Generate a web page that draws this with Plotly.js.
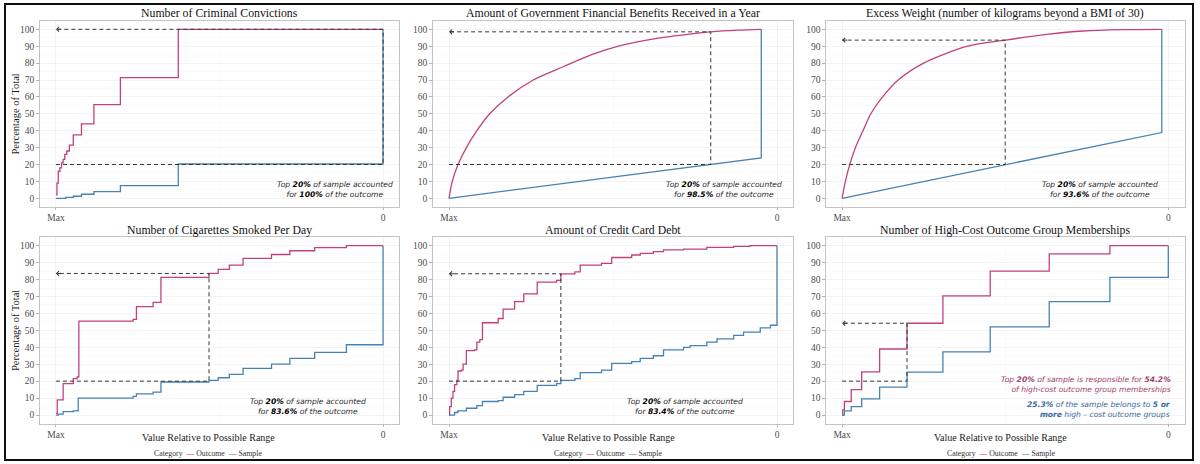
<!DOCTYPE html>
<html><head><meta charset="utf-8">
<script src="https://cdn.plot.ly/plotly-3.0.1.min.js"></script>
<style>html,body{margin:0;padding:0;background:#fff}#chart{width:1200px;height:464px}</style>
</head><body><div id="chart"></div>
<script>
// ---------- data ----------
const panelTitles = [
  'Number of Criminal Convictions',
  'Amount of Government Financial Benefits Received in a Year',
  'Excess Weight (number of kilograms beyond a BMI of 30)',
  'Number of Cigarettes Smoked Per Day',
  'Amount of Credit Card Debt',
  'Number of High-Cost Outcome Group Memberships'
];
const xTickLabels = ['Max', '0'];
const xTickVals = [0, 1];
const seriesNames = ['Outcome', 'Sample'];
const xAxisTitle = 'Value Relative to Possible Range';
const yAxisTitle = 'Percentage of Total';

// Panel 1: criminal convictions
const crimOutX = [0, 0.003, 0.007, 0.012, 0.017, 0.022, 0.027, 0.033, 0.041, 0.053, 0.078, 0.116, 0.197, 0.374, 1.0];
const crimOutY = [2, 9, 16, 18, 21, 23, 26, 28, 31.5, 37.5, 44, 55.4, 71.4, 100, 100];
const crimSamX = [0, 0.03, 0.053, 0.078, 0.116, 0.197, 0.374, 1.0, 1.0];
const crimSamY = [0, 0.6, 1.2, 2.4, 4, 7.5, 20.3, 20.3, 100];

// Panel 2: government benefits
const benOutX = [0, 0.01, 0.0275, 0.053, 0.085, 0.124, 0.18, 0.257, 0.35, 0.435, 0.525, 0.63, 0.74, 0.798, 0.88, 0.952];
const benOutY = [0, 10, 20, 30, 40, 50, 60, 70, 78, 85, 90.5, 94.5, 97.3, 98.5, 99.5, 100];
const benSamX = [0, 0.952, 0.952];
const benSamY = [0, 23.9, 100];

// Panel 3: excess weight
const wtOutX = [0, 0.01, 0.0235, 0.041, 0.064, 0.088, 0.124, 0.172, 0.25, 0.385, 0.5, 0.628, 0.74, 0.86, 0.98];
const wtOutY = [0, 10, 20, 30, 40, 50, 60, 70, 80, 90, 93.6, 97, 99, 99.8, 100];
const wtSamX = [0, 0.98, 0.98];
const wtSamY = [0, 38.9, 100];

// Panel 4: cigarettes
const cigOutX = [0, 0.004, 0.022, 0.053, 0.065, 0.07, 0.236, 0.246, 0.297, 0.321, 0.468, 0.496, 0.53, 0.572, 0.659, 0.715, 0.791, 0.888, 1.0];
const cigOutY = [1, 9, 18.5, 21.5, 22.5, 55.5, 56.5, 64, 66.5, 81.3, 83.6, 86, 88.5, 92.5, 94.8, 97, 98.8, 100, 100];
const cigSamX = [0, 0.007, 0.022, 0.053, 0.068, 0.236, 0.246, 0.297, 0.321, 0.468, 0.496, 0.53, 0.572, 0.659, 0.715, 0.791, 0.888, 1.0, 1.0];
const cigSamY = [0, 0.5, 2, 2.5, 10, 11, 12.5, 13.5, 19.5, 20.5, 22, 24, 27.5, 30, 33.5, 37, 41.5, 41.5, 100];

// Panel 5: credit card debt
const debtOutX = [0, 0.002, 0.007, 0.012, 0.017, 0.024, 0.0275, 0.038, 0.043, 0.053, 0.078, 0.085, 0.094, 0.102, 0.15, 0.165, 0.2, 0.228, 0.269, 0.328, 0.341, 0.384, 0.4, 0.465, 0.496, 0.557, 0.583, 0.623, 0.654, 0.715, 0.786, 0.868, 0.918, 1.0];
const debtOutY = [0, 5, 10, 14, 18, 20.5, 26, 26.5, 30, 38, 38.5, 43, 44.5, 54.5, 57, 62.5, 67, 71.5, 78.5, 79.5, 83.4, 84.5, 88.5, 89.5, 93, 94.5, 95.5, 96.5, 97.5, 98, 99, 99.6, 100, 100];
const debtSamX = [0, 0.017, 0.027, 0.053, 0.085, 0.102, 0.15, 0.165, 0.2, 0.228, 0.269, 0.328, 0.341, 0.384, 0.4, 0.465, 0.496, 0.557, 0.583, 0.623, 0.654, 0.715, 0.735, 0.786, 0.817, 0.868, 0.898, 0.949, 0.98, 1.0, 1.0];
const debtSamY = [0, 1.5, 2.5, 4, 5.5, 8, 8.5, 10.5, 12, 14, 17.5, 18.5, 20.5, 21.5, 25, 26.5, 30.5, 31.5, 33.5, 35, 38.5, 40, 41, 43, 45, 47, 49, 51.5, 53, 54, 100];

// Panel 6: high-cost group memberships
const grpOutX = [0, 0.002, 0.007, 0.028, 0.06, 0.115, 0.199, 0.309, 0.454, 0.635, 0.821, 1.0];
const grpOutY = [0, 3, 8, 15, 25.5, 39, 54.2, 70.3, 85, 95.1, 100, 100];
const grpSamX = [0, 0.007, 0.028, 0.06, 0.115, 0.199, 0.309, 0.454, 0.635, 0.821, 1.0, 1.0];
const grpSamY = [0, 2.5, 5, 9.5, 16.5, 25.3, 37.3, 52, 67, 81.3, 81.3, 100];

// Top-20% guide lines: sample share, x where sample reaches it, outcome share there
const sampleShare = 20;
const guideX = [1.0, 0.798, 0.5, 0.468, 0.341, 0.199];
const guideY = [100, 98.5, 93.6, 83.6, 83.4, 54.2];
const groupShare5Plus = 25.3;

// ---------- styling ----------
const PINK = '#c2417d', BLUE = '#4682b4', GUIDE = '#363636';
const SERIF = '"Liberation Serif", "Times New Roman", serif';
const SANS = '"DejaVu Sans", "Liberation Sans", sans-serif';

const panels = [
  {ox: crimOutX, oy: crimOutY, sx: crimSamX, sy: crimSamY, shape: 'hv'},
  {ox: benOutX, oy: benOutY, sx: benSamX, sy: benSamY, shape: 'spline'},
  {ox: wtOutX, oy: wtOutY, sx: wtSamX, sy: wtSamY, shape: 'spline'},
  {ox: cigOutX, oy: cigOutY, sx: cigSamX, sy: cigSamY, shape: 'hv'},
  {ox: debtOutX, oy: debtOutY, sx: debtSamX, sy: debtSamY, shape: 'hv'},
  {ox: grpOutX, oy: grpOutY, sx: grpSamX, sy: grpSamY, shape: 'hv'}
];

const W = 1200, H = 464;
const xDomains = [[39.6/W, 399.4/W], [432.6/W, 793.4/W], [825.8/W, 1184.6/W]];
const yDomains = [[1 - 206.75/H, 1 - 20.85/H], [1 - 423.5/H, 1 - 237.2/H]];

const traces = [];
const annotations = [];
const layout = {
  width: W, height: H,
  margin: {l: 0, r: 0, t: 0, b: 0},
  paper_bgcolor: '#ffffff', plot_bgcolor: '#ffffff',
  showlegend: false,
  font: {family: SERIF, color: '#4d4d4d'},
  shapes: [{
    type: 'rect', xref: 'paper', yref: 'paper',
    x0: 5/W, x1: 1193/W, y0: 1 - 460/H, y1: 1 - 4/H,
    line: {color: '#111111', width: 2}, fillcolor: 'rgba(0,0,0,0)', layer: 'above'
  }],
  annotations: annotations
};

panels.forEach((p, i) => {
  const s = i === 0 ? '' : String(i + 1);
  const row = i < 3 ? 0 : 1, col = i % 3;
  const xa = 'x' + s, ya = 'y' + s;
  const lineOut = {color: PINK, width: 1.3, shape: p.shape};
  if (p.shape === 'spline') lineOut.smoothing = 0.8;

  traces.push({x: p.ox, y: p.oy, xaxis: xa, yaxis: ya, type: 'scatter', mode: 'lines',
    name: seriesNames[0], line: lineOut, hoverinfo: 'skip'});
  traces.push({x: p.sx, y: p.sy, xaxis: xa, yaxis: ya, type: 'scatter', mode: 'lines',
    name: seriesNames[1], line: {color: BLUE, width: 1.3, shape: p.shape === 'spline' ? 'linear' : p.shape}, hoverinfo: 'skip'});
  traces.push({x: [0, guideX[i], guideX[i], 0], y: [sampleShare, sampleShare, guideY[i], guideY[i]],
    xaxis: xa, yaxis: ya, type: 'scatter', mode: 'lines', showlegend: false,
    line: {color: GUIDE, width: 1, dash: '4px,3px'}, hoverinfo: 'skip'});

  layout['xaxis' + s] = {
    domain: xDomains[col], anchor: ya, range: [-0.05, 1.05],
    tickvals: xTickVals, ticktext: xTickLabels,
    ticks: 'outside', ticklen: 2, tickcolor: '#b3b3b3', tickwidth: 1,
    tickfont: {family: SERIF, size: 9.5, color: '#4d4d4d'},
    showgrid: true, gridcolor: '#ebebeb', gridwidth: 0.6,
    minor: {tickvals: [0.5], showgrid: true, gridcolor: '#f4f4f4', gridwidth: 0.4},
    zeroline: false, showline: true, mirror: true, linecolor: '#c4c4c4', linewidth: 1,
    fixedrange: true, title: {text: ''}
  };
  layout['yaxis' + s] = {
    domain: yDomains[row], anchor: xa, range: [-5, 105],
    tickmode: 'linear', tick0: 0, dtick: 10,
    ticks: 'outside', ticklen: 2.5, tickcolor: '#b3b3b3', tickwidth: 1,
    tickfont: {family: SERIF, size: 9.5, color: '#4d4d4d'},
    showgrid: true, gridcolor: '#ebebeb', gridwidth: 0.6,
    minor: {dtick: 5, showgrid: true, gridcolor: '#f4f4f4', gridwidth: 0.4},
    zeroline: false, showline: true, mirror: true, linecolor: '#c4c4c4', linewidth: 1,
    fixedrange: true, title: {text: ''}
  };

  // panel title
  annotations.push({xref: 'paper', yref: 'paper',
    x: (xDomains[col][0] + xDomains[col][1]) / 2,
    y: row === 0 ? 1 - 13.5/H : 1 - 230.5/H,
    xanchor: 'center', yanchor: 'middle', showarrow: false,
    text: panelTitles[i], font: {family: SERIF, size: 11.8, color: '#111111'}});

  // arrow head at the left end of the upper guide
  annotations.push({xref: xa, yref: ya, axref: xa, ayref: ya,
    x: 0, y: guideY[i], ax: 0.02, ay: guideY[i], text: '',
    showarrow: true, arrowhead: 4, arrowsize: 0.9, arrowwidth: 1, arrowcolor: GUIDE});
});

// axis titles (placed as in the reference)
const xTitleCenters = [208, 608, 1001];
xTitleCenters.forEach(cx => {
  annotations.push({xref: 'paper', yref: 'paper', x: cx / W, y: 1 - 437.5/H,
    xanchor: 'center', yanchor: 'middle', showarrow: false,
    text: xAxisTitle, font: {family: SERIF, size: 10, color: '#1a1a1a'}});
});
[(20.85 + 206.75) / 2, (237.2 + 423.5) / 2].forEach(cy => {
  annotations.push({xref: 'paper', yref: 'paper', x: 15.7 / W, y: 1 - cy / H,
    xanchor: 'center', yanchor: 'middle', showarrow: false, textangle: -90,
    text: yAxisTitle, font: {family: SERIF, size: 10.5, color: '#1a1a1a'}});
});

// explanatory notes (panels 1-5)
const noteX = [0.853, 0.839, 0.791, 0.77, 0.72];
const noteY = [5.5, 5.5, 5.5, 4.9, 4.9];
for (let i = 0; i < 5; i++) {
  const s = i === 0 ? '' : String(i + 1);
  annotations.push({xref: 'x' + s, yref: 'y' + s, x: noteX[i], y: noteY[i],
    xanchor: 'center', yanchor: 'middle', align: 'center', showarrow: false,
    text: 'Top <b style="color:#000">' + sampleShare + '%</b> of sample accounted<br>for <b style="color:#000">' + guideY[i] + '%</b> of the outcome',
    font: {family: SANS, size: 7.6, color: '#2b2b2b', style: 'italic'}});
}
// panel 6 notes
annotations.push({xref: 'x6', yref: 'y6', x: 1.015, y: 18.3,
  xanchor: 'right', yanchor: 'middle', align: 'right', showarrow: false,
  text: 'Top <b>' + sampleShare + '%</b> of sample is responsible for <b>' + guideY[5] + '%</b><br>of high-cost outcome group memberships',
  font: {family: SANS, size: 7.6, color: '#a3416f', style: 'italic'}});
annotations.push({xref: 'x6', yref: 'y6', x: 1.015, y: 3.4,
  xanchor: 'right', yanchor: 'middle', align: 'right', showarrow: false,
  text: '<b>' + groupShare5Plus + '%</b> of the sample belongs to <b>5 or</b><br><b>more</b> high \u2013 cost outcome groups',
  font: {family: SANS, size: 7.6, color: '#3d6aa3', style: 'italic'}});

// category keys under the bottom row
const keyCenters = [208, 608, 1001];
keyCenters.forEach(cx => {
  annotations.push({xref: 'paper', yref: 'paper', x: cx / W, y: 1 - 453.5/H,
    xanchor: 'center', yanchor: 'middle', showarrow: false,
    text: 'Category&nbsp;&nbsp;<span style="color:' + PINK + '">\u2014</span>&nbsp;' + seriesNames[0] +
          '&nbsp;&nbsp;<span style="color:' + BLUE + '">\u2014</span>&nbsp;' + seriesNames[1],
    font: {family: SERIF, size: 7.8, color: '#333333'}});
});

Plotly.newPlot('chart', traces, layout, {staticPlot: true, displayModeBar: false});
</script>
</body></html>
